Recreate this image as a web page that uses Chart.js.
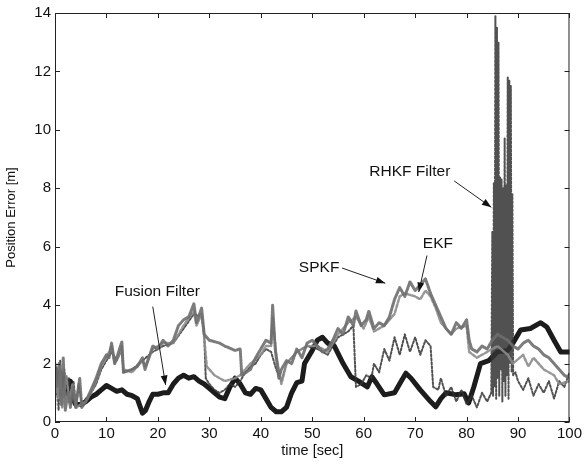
<!DOCTYPE html>
<html>
<head>
<meta charset="utf-8">
<script src="https://cdn.jsdelivr.net/npm/chart.js@4.4.0/dist/chart.umd.min.js"></script>
<style>
  html, body { margin: 0; padding: 0; background: #fff; }
  #wrap { width: 585px; height: 468px; }
</style>
</head>
<body>
<div id="wrap"><canvas id="chart" width="585" height="468"></canvas></div>
<script>
// time axis ticks and value ticks
const xTicks = [0, 10, 20, 30, 40, 50, 60, 70, 80, 90, 100];
const yTicks = [0, 2, 4, 6, 8, 10, 12, 14];

// Fusion Filter (thick black)
const fusionT = [0, 0.5, 1, 1.5, 2, 2.5, 3, 3.5, 4, 5, 6, 7, 8, 9, 10, 11, 12, 13, 14, 15, 16, 16.6, 17, 17.6, 18.3, 19, 20, 21, 22, 23, 24, 25, 26, 27, 28, 29, 30, 31, 32, 33, 34, 35, 36, 37, 38, 39, 40, 41, 42, 43, 44, 45, 46, 47, 48, 48.5, 50, 51, 52, 53, 54.3, 56, 57.5, 59, 60.7, 61.6, 62.6, 64, 66, 67.2, 68.2, 69.2, 71, 73, 74, 75, 76, 78, 79.5, 80.4, 81.4, 82.7, 84.3, 86, 88, 89, 90.5, 92.4, 94.4, 95.6, 97, 98.3, 100];
const fusionV = [1.8, 1.0, 1.7, 0.9, 1.5, 1.0, 1.4, 0.8, 0.6, 0.6, 0.7, 0.85, 0.95, 1.1, 1.25, 1.15, 1.05, 1.1, 0.95, 0.9, 0.8, 0.5, 0.3, 0.4, 0.7, 0.95, 0.95, 1.0, 1.0, 1.3, 1.5, 1.6, 1.5, 1.55, 1.4, 1.3, 1.15, 1.0, 0.85, 0.8, 1.2, 1.5, 1.3, 1.0, 0.95, 1.15, 1.1, 0.8, 0.5, 0.35, 0.35, 0.5, 1.0, 1.35, 1.4, 2.0, 2.45, 2.8, 2.9, 2.7, 2.6, 2.0, 1.55, 1.4, 1.2, 1.55, 1.3, 0.93, 1.0, 1.37, 1.67, 1.5, 1.1, 0.7, 0.52, 0.8, 1.0, 0.93, 0.97, 0.65, 1.2, 2.0, 2.1, 2.4, 2.45, 2.7, 3.15, 3.2, 3.4, 3.25, 2.8, 2.4, 2.4];

// SPKF (upper grey)
const spkfT = [0, 0.4, 0.8, 1.2, 1.6, 2, 2.5, 3, 3.5, 4, 4.8, 5.2, 6, 7, 8, 9, 10, 10.5, 11, 11.6, 12, 13, 13.3, 15, 16, 17, 17.5, 19, 20, 21, 22, 23, 24, 25, 26, 27, 27.5, 28.5, 29, 30, 32, 33, 35, 36, 36.3, 38, 39, 40, 41, 42, 42.3, 42.8, 43.5, 44, 45, 46, 47, 48, 49, 50, 51, 52, 53, 54, 55, 56, 57, 58, 58.5, 59.5, 60.5, 61, 62, 63, 64, 65, 66, 67, 68, 69, 70, 71, 72, 73, 74, 75, 76, 77, 78, 79, 80, 80.5, 81, 82, 83, 84, 85, 86, 88, 89, 90, 91, 92, 93, 94, 95, 96, 97, 98, 99, 100];
const spkfV = [2.0, 1.2, 2.0, 0.6, 2.2, 0.4, 1.0, 0.5, 1.2, 0.5, 1.5, 0.5, 0.7, 1.1, 1.5, 2.0, 2.3, 2.2, 2.7, 2.0, 2.2, 2.75, 1.7, 1.8, 1.9, 2.2, 1.8, 2.6, 2.5, 2.8, 2.6, 2.8, 3.3, 3.5, 3.6, 4.05, 3.4, 3.9, 3.0, 2.8, 2.7, 2.6, 2.45, 2.5, 1.6, 1.8, 2.2, 2.5, 2.8, 2.7, 4.0, 2.5, 1.5, 1.8, 2.1, 2.0, 2.5, 2.2, 2.7, 2.8, 2.6, 2.4, 2.5, 2.8, 3.2, 3.0, 3.6, 3.3, 3.8, 3.3, 3.5, 3.8, 3.2, 3.4, 3.3, 3.6, 4.2, 4.6, 4.3, 4.8, 4.5, 4.7, 4.9, 4.4, 4.0, 3.6, 3.2, 3.0, 3.4, 3.2, 3.5, 2.8, 2.5, 2.4, 2.6, 2.5, 2.8, 3.0, 2.8, 2.6, 2.5, 2.7, 2.8, 2.6, 2.5, 2.3, 2.2, 2.0, 1.8, 1.6, 1.5];

// EKF (grey, close to SPKF)
const ekfT = [0, 0.6, 1.0, 1.4, 2.2, 2.8, 3.4, 4.2, 5, 6, 7, 8, 9, 10, 11, 11.6, 12.5, 13, 13.3, 15, 17, 17.5, 19, 21, 23, 25, 27, 27.5, 28.5, 29, 29.5, 31, 33, 35, 36, 38, 40, 41, 42, 42.3, 43, 44, 45, 47, 49, 51, 53, 55, 57, 58.5, 60, 61, 62, 64, 66, 67, 68, 70, 71, 72, 73, 74, 75, 77, 78, 80, 80.5, 82, 84, 86, 88, 89, 91, 92, 93, 95, 97, 98, 100];
const ekfV = [1.6, 0.8, 1.9, 0.5, 1.6, 0.7, 1.3, 0.5, 0.6, 0.7, 1.0, 1.4, 1.9, 2.2, 2.6, 2.0, 2.3, 2.6, 1.8, 1.7, 2.1, 1.9, 2.5, 2.7, 2.7, 3.3, 3.8, 3.3, 3.7, 2.9, 1.9, 1.6, 1.4, 1.5, 1.6, 2.0, 2.3, 2.6, 2.6, 3.6, 2.3, 1.3, 2.0, 2.4, 2.6, 2.6, 2.4, 3.0, 3.4, 3.6, 3.2, 3.6, 3.1, 3.3, 3.7, 4.3, 4.4, 4.3, 4.2, 4.5, 4.3, 3.9, 3.4, 3.0, 3.2, 3.3, 2.4, 2.2, 2.4, 2.6, 2.3, 2.0, 2.3, 1.9, 2.2, 1.8, 1.6, 1.3, 1.4];

// RHKF Filter (dark dotted, spike near 86-89 s)
const rhkfT = [0, 0.3, 0.7, 1.0, 1.4, 1.8, 2.3, 2.7, 3.1, 3.6, 4.1, 4.6, 5.2, 6, 7, 8, 9, 10, 11, 12, 13, 13.3, 15, 17, 19, 21, 23, 25, 27, 28.5, 29, 29.3, 30, 31, 32, 33, 34, 35, 36, 37, 38, 39, 40, 41, 42, 43, 44, 45, 47, 49, 51, 53, 55, 57, 58, 58.5, 59.5, 60.5, 61.5, 62, 63, 64, 65, 66, 67, 68, 69, 70, 71, 72, 73, 73.5, 74.5, 75, 76, 77, 78, 79, 80, 81, 82, 83, 84, 84.8, 85.0, 85.15, 85.3, 85.45, 85.6, 85.75, 85.9, 86.05, 86.2, 86.35, 86.5, 86.65, 86.8, 86.95, 87.1, 87.25, 87.4, 87.55, 87.7, 87.85, 88.0, 88.15, 88.3, 88.45, 88.6, 88.75, 88.9, 89.05, 89.5, 90, 91, 92, 93, 94, 95, 96, 97, 98, 99, 100];
const rhkfV = [0.3, 1.9, 0.4, 2.1, 0.5, 1.8, 0.9, 1.5, 0.6, 1.4, 0.5, 1.3, 0.6, 0.8, 1.0, 1.3, 1.8, 2.1, 2.4, 2.1, 2.5, 1.7, 1.8, 2.1, 2.4, 2.6, 2.7, 3.2, 3.7, 3.6, 3.0, 1.5, 1.3, 1.1, 1.0, 1.1, 1.3, 1.2, 1.4, 1.7, 1.9, 2.0, 2.3, 2.5, 2.4, 1.8, 1.4, 2.0, 2.4, 2.6, 2.5, 2.3, 2.9, 3.1, 3.3, 1.2, 1.3, 1.6, 1.5, 2.0, 1.7, 2.5, 2.1, 2.9, 2.3, 3.0, 2.4, 2.9, 2.3, 2.8, 2.6, 1.2, 1.1, 1.5, 0.9, 1.2, 0.7, 1.1, 0.6, 0.9, 0.5, 1.0, 0.7, 1.0, 6.5, 0.9, 8.2, 1.2, 13.9, 0.8, 13.5, 1.5, 13.0, 0.9, 8.4, 1.8, 8.3, 0.7, 8.0, 1.4, 9.7, 0.9, 8.1, 1.6, 11.8, 0.8, 11.7, 2.0, 11.5, 1.7, 7.8, 1.6, 1.7, 1.4, 1.1, 1.5, 0.9, 1.3, 1.0, 1.4, 0.8, 1.4, 1.2, 1.7];

function pts(t, v) { return t.map((x, i) => ({ x: x, y: v[i] })); }

// text labels with arrows, in data units
const notes = [
  { text: 'Fusion Filter', x: 11.6, y: 4.45, from: [19.0, 3.95], to: [21.5, 1.27] },
  { text: 'SPKF', x: 47.4, y: 5.27, from: [55.8, 5.27], to: [64.2, 4.75] },
  { text: 'EKF', x: 71.5, y: 6.1, from: [72.3, 5.7], to: [70.7, 4.45] },
  { text: 'RHKF Filter', x: 61.1, y: 8.56, from: [77.6, 8.25], to: [84.8, 7.35] }
];

const FONT = "'Liberation Sans', Arial, sans-serif";

const framePlugin = {
  id: 'frame',
  afterDatasetsDraw(chart) {
    const ctx = chart.ctx;
    const a = chart.chartArea;
    const xs = chart.scales.x, ys = chart.scales.y;
    ctx.save();
    ctx.strokeStyle = '#222';
    ctx.lineWidth = 1;
    ctx.strokeRect(a.left + 0.5, a.top + 0.5, a.right - a.left - 1, a.bottom - a.top - 1);
    ctx.beginPath();
    xTicks.forEach(t => {
      const px = Math.round(xs.getPixelForValue(t)) + 0.5;
      ctx.moveTo(px, a.bottom); ctx.lineTo(px, a.bottom - 5);
      ctx.moveTo(px, a.top); ctx.lineTo(px, a.top + 5);
    });
    yTicks.forEach(v => {
      const py = Math.round(ys.getPixelForValue(v)) + 0.5;
      ctx.moveTo(a.left, py); ctx.lineTo(a.left + 5, py);
      ctx.moveTo(a.right, py); ctx.lineTo(a.right - 5, py);
    });
    ctx.stroke();

    // annotations
    ctx.fillStyle = '#111';
    ctx.strokeStyle = '#222';
    ctx.font = '15.5px ' + FONT;
    ctx.textBaseline = 'middle';
    notes.forEach(n => {
      ctx.textAlign = 'left';
      ctx.fillText(n.text, xs.getPixelForValue(n.x), ys.getPixelForValue(n.y));
      const x1 = xs.getPixelForValue(n.from[0]), y1 = ys.getPixelForValue(n.from[1]);
      const x2 = xs.getPixelForValue(n.to[0]), y2 = ys.getPixelForValue(n.to[1]);
      ctx.beginPath();
      ctx.moveTo(x1, y1); ctx.lineTo(x2, y2);
      ctx.lineWidth = 1;
      ctx.stroke();
      const ang = Math.atan2(y2 - y1, x2 - x1);
      const L = 10, W = 0.35;
      ctx.beginPath();
      ctx.moveTo(x2, y2);
      ctx.lineTo(x2 - L * Math.cos(ang - W), y2 - L * Math.sin(ang - W));
      ctx.lineTo(x2 - L * Math.cos(ang + W), y2 - L * Math.sin(ang + W));
      ctx.closePath();
      ctx.fill();
    });
    ctx.restore();
  }
};

new Chart(document.getElementById('chart'), {
  type: 'line',
  data: {
    datasets: [
      { label: 'SPKF', data: pts(spkfT, spkfV), borderColor: 'rgba(110,110,110,0.9)', borderWidth: 3, borderDash: [2, 1] },
      { label: 'EKF', data: pts(ekfT, ekfV), borderColor: 'rgba(140,140,140,0.9)', borderWidth: 2.5, borderDash: [3, 2] },
      { label: 'RHKF Filter', data: pts(rhkfT, rhkfV), borderColor: 'rgba(50,50,50,0.85)', borderWidth: 2, borderDash: [2, 2] },
      { label: 'Fusion Filter', data: pts(fusionT, fusionV), borderColor: '#1c1c1c', borderWidth: 5 }
    ]
  },
  options: {
    responsive: false,
    animation: false,
    layout: { padding: { top: 13, right: 11, left: 0, bottom: 0 } },
    elements: { point: { radius: 0 }, line: { tension: 0, borderJoinStyle: 'round', borderCapStyle: 'round' } },
    plugins: { legend: { display: false }, tooltip: { enabled: false } },
    scales: {
      x: {
        type: 'linear', min: 0, max: 100,
        afterBuildTicks: s => { s.ticks = xTicks.map(v => ({ value: v })); },
        afterFit: s => { s.height = 46; },
        grid: { display: false, drawTicks: false },
        border: { display: false },
        ticks: { color: '#111', padding: 3, maxRotation: 0, font: { family: FONT, size: 15 } },
        title: { display: true, text: 'time [sec]', color: '#111', padding: { top: 0, bottom: 8 }, font: { family: FONT, size: 14.5 } }
      },
      y: {
        min: 0, max: 14,
        afterBuildTicks: s => { s.ticks = yTicks.map(v => ({ value: v })); },
        afterFit: s => { s.width = 55; },
        grid: { display: false, drawTicks: false },
        border: { display: false },
        ticks: { color: '#111', padding: 4, font: { family: FONT, size: 15 } },
        title: { display: true, text: 'Position Error [m]', color: '#111', padding: { top: 4, bottom: 0 }, font: { family: FONT, size: 13 } }
      }
    }
  },
  plugins: [framePlugin]
});
</script>
</body>
</html>
